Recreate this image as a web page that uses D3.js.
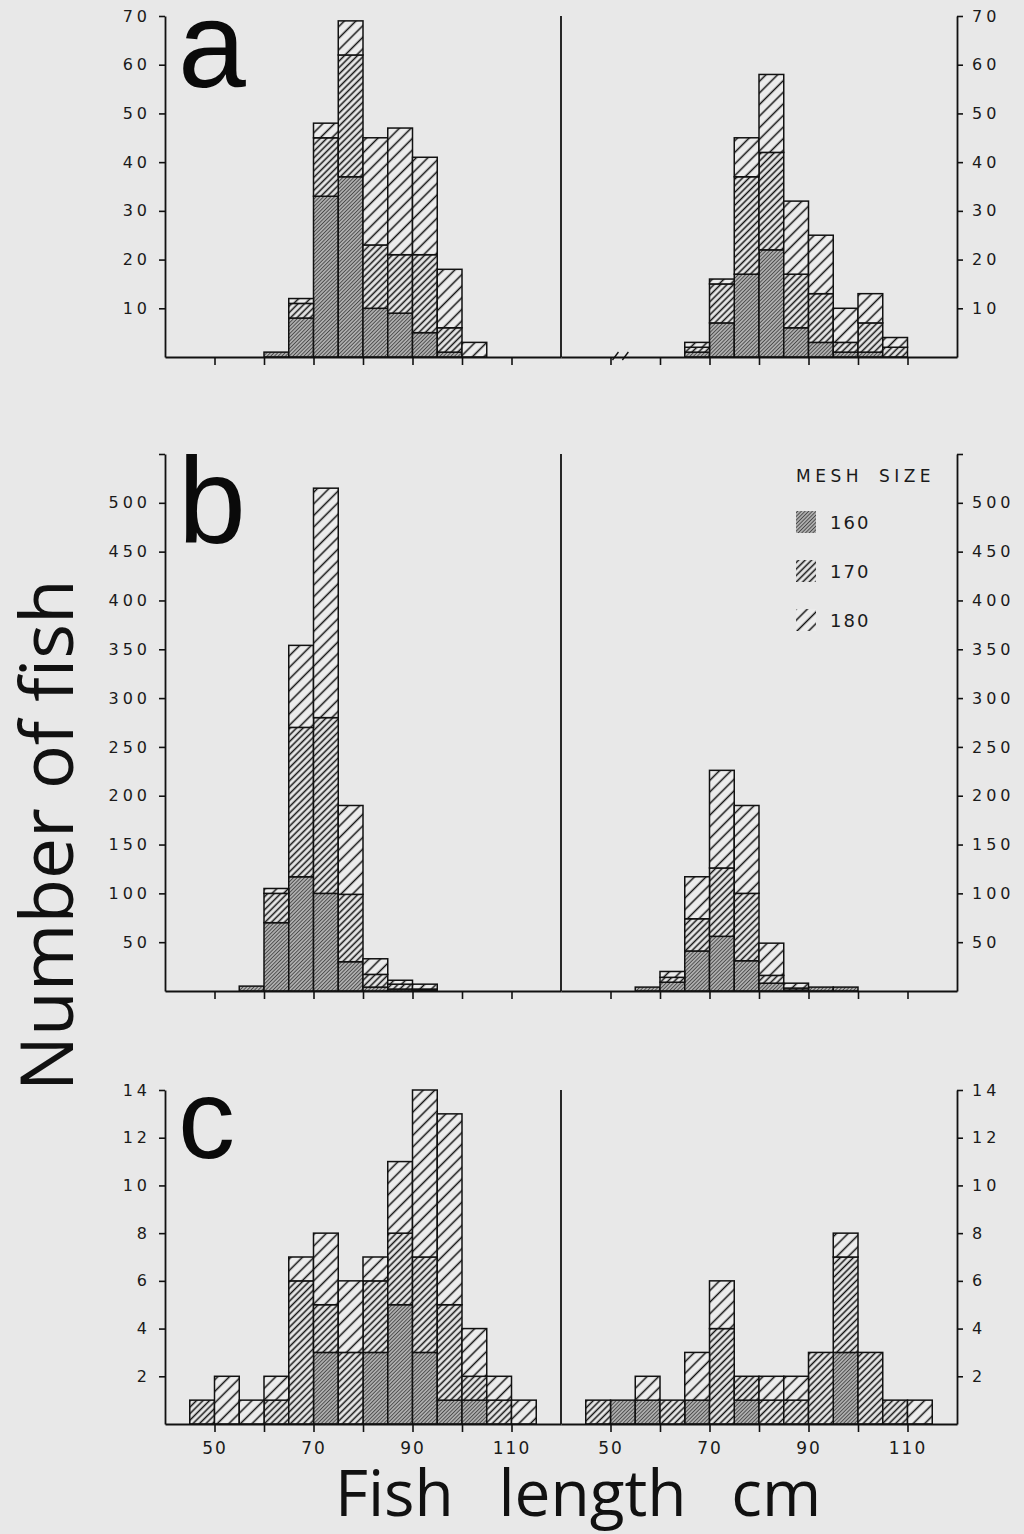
<!DOCTYPE html>
<html>
<head>
<meta charset="utf-8">
<script src="https://cdn.jsdelivr.net/npm/d3@7"></script>
<style>
  html, body { margin: 0; padding: 0; background: #e8e8e8; }
  svg { display: block; }
</style>
</head>
<body>
<svg id="chart" width="1024" height="1534"></svg>
<script>
// start of each 5 cm length class
const bins = [45, 50, 55, 60, 65, 70, 75, 80, 85, 90, 95, 100, 105, 110];
const meshSizes = ["160", "170", "180"];

// panel a
const a_left_160  = [0, 0, 0, 1, 8, 33, 37, 10, 9, 5, 1, 0, 0, 0];
const a_left_170  = [0, 0, 0, 0, 3, 12, 25, 13, 12, 16, 5, 0, 0, 0];
const a_left_180  = [0, 0, 0, 0, 1, 3, 7, 22, 26, 20, 12, 3, 0, 0];
const a_right_160 = [0, 0, 0, 0, 1, 7, 17, 22, 6, 3, 1, 1, 0, 0];
const a_right_170 = [0, 0, 0, 0, 1, 8, 20, 20, 11, 10, 2, 6, 2, 0];
const a_right_180 = [0, 0, 0, 0, 1, 1, 8, 16, 15, 12, 7, 6, 2, 0];

// panel b
const b_left_160  = [0, 0, 5, 70, 117, 100, 30, 4, 2, 1, 0, 0, 0, 0];
const b_left_170  = [0, 0, 0, 30, 153, 180, 69, 13, 5, 1, 0, 0, 0, 0];
const b_left_180  = [0, 0, 0, 5, 84, 235, 91, 16, 4, 5, 0, 0, 0, 0];
const b_right_160 = [0, 0, 4, 9, 41, 56, 31, 8, 1, 4, 4, 0, 0, 0];
const b_right_170 = [0, 0, 0, 5, 33, 70, 69, 8, 2, 0, 0, 0, 0, 0];
const b_right_180 = [0, 0, 0, 6, 43, 100, 90, 33, 5, 0, 0, 0, 0, 0];

// panel c
const c_left_160  = [0, 0, 0, 0, 0, 3, 0, 3, 5, 3, 1, 1, 0, 0];
const c_left_170  = [1, 0, 0, 1, 6, 2, 3, 3, 3, 4, 4, 1, 1, 0];
const c_left_180  = [0, 2, 1, 1, 1, 3, 3, 1, 3, 7, 8, 2, 1, 1];
const c_right_160 = [0, 1, 1, 0, 1, 0, 1, 0, 0, 0, 3, 0, 0, 0];
const c_right_170 = [1, 0, 0, 1, 0, 4, 1, 1, 1, 3, 4, 3, 1, 0];
const c_right_180 = [0, 0, 1, 0, 2, 2, 0, 1, 1, 0, 1, 0, 0, 1];

// y ticks per panel row (the top tick of b has no label)
const a_ticks = [10, 20, 30, 40, 50, 60, 70];
const b_ticks = [50, 100, 150, 200, 250, 300, 350, 400, 450, 500, 550];
const c_ticks = [2, 4, 6, 8, 10, 12, 14];
const xTicks = [50, 60, 70, 80, 90, 100, 110];
const xLabels = [50, 70, 90, 110];

const rows = [
  { key: "a", max: 70,  ticks: a_ticks, top: 16,   base: 357,  left: [a_left_160, a_left_170, a_left_180],  right: [a_right_160, a_right_170, a_right_180] },
  { key: "b", max: 550, ticks: b_ticks, top: 454,  base: 991,  left: [b_left_160, b_left_170, b_left_180],  right: [b_right_160, b_right_170, b_right_180] },
  { key: "c", max: 14,  ticks: c_ticks, top: 1090, base: 1424, left: [c_left_160, c_left_170, c_left_180],  right: [c_right_160, c_right_170, c_right_180] }
];

const xLeft = d3.scaleLinear().domain([40, 120]).range([165, 561]);
const xRight = d3.scaleLinear().domain([40, 120]).range([561, 957]);

const svg = d3.select("#chart");
svg.append("rect").attr("width", 1024).attr("height", 1534).attr("fill", "#e8e8e8");

// hatch patterns for the three mesh sizes
const defs = svg.append("defs");
function hatch(id, gap, lw, color, bg) {
  const p = defs.append("pattern")
    .attr("id", id)
    .attr("patternUnits", "userSpaceOnUse")
    .attr("width", gap).attr("height", gap)
    .attr("patternTransform", "rotate(45)");
  p.append("rect").attr("width", gap).attr("height", gap).attr("fill", bg);
  p.append("line")
    .attr("x1", gap / 2).attr("y1", 0)
    .attr("x2", gap / 2).attr("y2", gap)
    .attr("stroke", color).attr("stroke-width", lw);
}
hatch("m160", 2.6, 1.1, "#4a4a4a", "#bdbdbd");
hatch("m170", 4.6, 1.5, "#111", "#e8e8e8");
hatch("m180", 8.2, 1.5, "#111", "#ececec");
const fillFor = { "160": "url(#m160)", "170": "url(#m170)", "180": "url(#m180)" };

const tickFont = "'DejaVu Sans', sans-serif";

function drawPanel(g, x, series, y) {
  const table = bins.map((b, i) => ({ bin: b, "160": series[0][i], "170": series[1][i], "180": series[2][i] }));
  const stacked = d3.stack().keys(meshSizes)(table);
  stacked.forEach(layer => {
    g.append("g")
      .selectAll("rect")
      .data(layer.filter(d => d[1] - d[0] > 0))
      .join("rect")
      .attr("x", d => x(d.data.bin))
      .attr("width", d => x(d.data.bin + 5) - x(d.data.bin))
      .attr("y", d => y(d[1]))
      .attr("height", d => y(d[0]) - y(d[1]))
      .attr("fill", fillFor[layer.key])
      .attr("stroke", "#111")
      .attr("stroke-width", 1.5);
  });
}

function styleAxis(sel) {
  sel.select(".domain").attr("stroke", "#111").attr("stroke-width", 1.8);
  sel.selectAll(".tick line").attr("stroke", "#111").attr("stroke-width", 1.6);
  sel.selectAll(".tick text")
    .attr("fill", "#1a1a1a")
    .style("font-family", tickFont)
    .style("font-size", "16px")
    .style("letter-spacing", "4px");
  // drop empty labels
  sel.selectAll(".tick text").filter(function() { return this.textContent === ""; }).remove();
}

rows.forEach(r => {
  const y = d3.scaleLinear().domain([0, r.max]).range([r.base, r.top]);
  const g = svg.append("g");

  drawPanel(g, xLeft, r.left, y);
  drawPanel(g, xRight, r.right, y);

  const fmt = d => (r.key === "b" && d === 550) ? "" : d;

  g.append("g")
    .attr("transform", `translate(${xLeft(40)},0)`)
    .call(d3.axisLeft(y).tickValues(r.ticks).tickFormat(fmt).tickSize(6).tickSizeOuter(0).tickPadding(8))
    .call(styleAxis);

  g.append("g")
    .attr("transform", `translate(${xRight(120)},0)`)
    .call(d3.axisRight(y).tickValues(r.ticks).tickFormat(fmt).tickSize(6).tickSizeOuter(0).tickPadding(9))
    .call(styleAxis);

  // divider between the two halves
  g.append("line")
    .attr("x1", xLeft(120)).attr("x2", xLeft(120))
    .attr("y1", y(r.max)).attr("y2", y(0))
    .attr("stroke", "#111").attr("stroke-width", 1.8);

  [xLeft, xRight].forEach(x => {
    g.append("g")
      .attr("transform", `translate(0,${y(0)})`)
      .call(d3.axisBottom(x).tickValues(xTicks)
        .tickFormat(d => (r.key === "c" && xLabels.includes(d)) ? d : "")
        .tickSize(8).tickSizeOuter(0).tickPadding(10))
      .call(styleAxis)
      .selectAll(".tick text").style("font-size", "17px").style("letter-spacing", "2px");
  });

  // panel letter
  svg.append("text")
    .attr("x", 178)
    .attr("y", r.top + (r.key === "b" ? 89 : (r.key === "a" ? 71 : 68)))
    .style("font-family", "'Liberation Sans', Arial, sans-serif")
    .style("font-size", r.key === "c" ? "114px" : "122px")
    .attr("fill", "#0a0a0a")
    .text(r.key);

  // small axis-break mark on the baseline of panel a, right half
  if (r.key === "a") {
    [51, 53].forEach(v => {
      svg.append("line")
        .attr("x1", xRight(v) - 3).attr("y1", y(0) + 3)
        .attr("x2", xRight(v) + 3).attr("y2", y(0) - 5)
        .attr("stroke", "#111").attr("stroke-width", 1.3);
    });
  }
});

// legend
const legend = svg.append("g").attr("transform", "translate(796,0)");
legend.append("text")
  .attr("x", 0).attr("y", 482)
  .style("font-family", tickFont).style("font-size", "17px")
  .style("letter-spacing", "4.5px").style("word-spacing", "6px")
  .attr("fill", "#1a1a1a")
  .text("MESH SIZE");
const legendY = d3.scalePoint().domain(meshSizes).range([522, 620]);
meshSizes.forEach(m => {
  legend.append("rect")
    .attr("x", 0).attr("y", legendY(m) - 11)
    .attr("width", 20).attr("height", 22)
    .attr("fill", fillFor[m]);
  legend.append("text")
    .attr("x", 34).attr("y", legendY(m) + 7)
    .style("font-family", tickFont).style("font-size", "18px")
    .style("letter-spacing", "2px")
    .attr("fill", "#1a1a1a")
    .text(m);
});

// axis titles
svg.append("text")
  .attr("transform", "translate(73,835) rotate(-90)")
  .attr("text-anchor", "middle")
  .style("font-family", "'Open Sans', sans-serif")
  .style("font-size", "73px")
  .attr("fill", "#111")
  .text("Number of fish");

svg.append("text")
  .attr("x", 578).attr("y", 1516)
  .attr("text-anchor", "middle")
  .style("font-family", "'Open Sans', sans-serif")
  .style("font-size", "64px")
  .style("word-spacing", "28px")
  .attr("fill", "#111")
  .text("Fish length cm");
</script>
</body>
</html>
